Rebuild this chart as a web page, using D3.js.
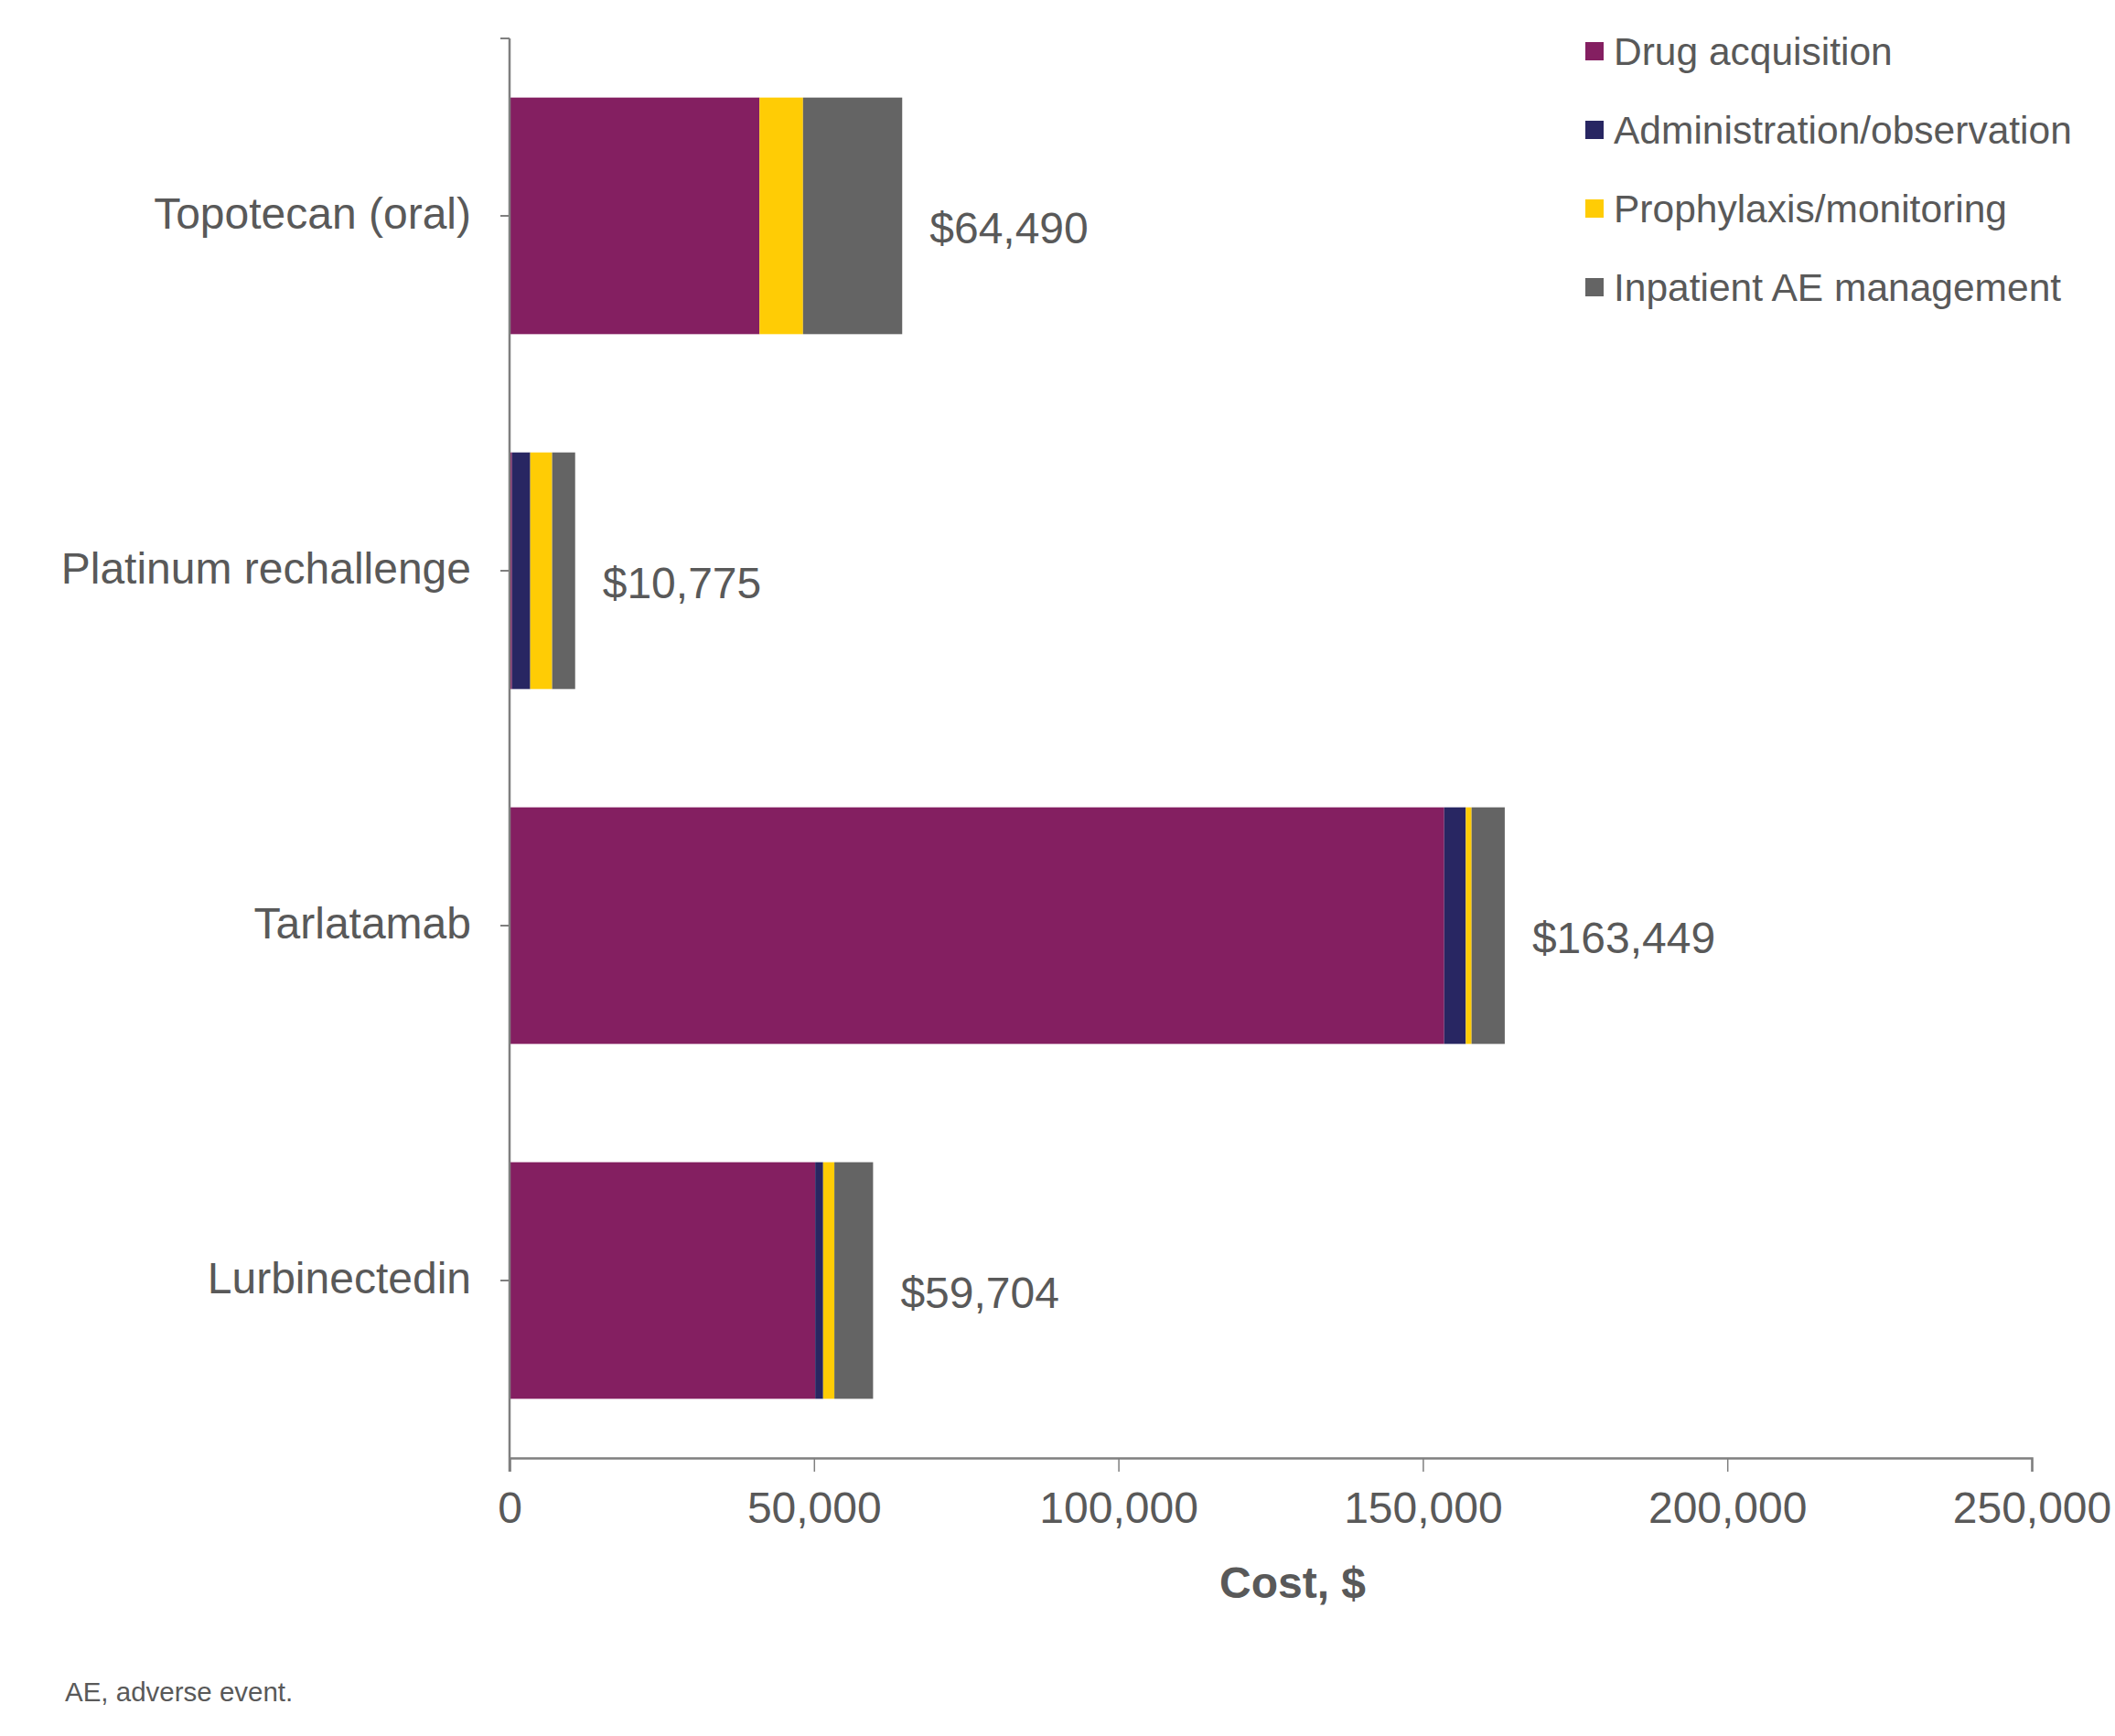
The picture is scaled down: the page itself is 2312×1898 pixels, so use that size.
<!DOCTYPE html>
<html>
<head>
<meta charset="utf-8">
<script src="https://cdn.jsdelivr.net/npm/d3@7"></script>
<style>
  html, body { margin: 0; padding: 0; background: #fff; }
  svg { display: block; font-family: "Liberation Sans", Arial, sans-serif; }
</style>
</head>
<body>
<svg id="chart"></svg>
<script>
// data
const categories = ["Topotecan (oral)", "Platinum rechallenge", "Tarlatamab", "Lurbinectedin"];
const seriesNames = ["Drug acquisition", "Administration/observation", "Prophylaxis/monitoring", "Inpatient AE management"];
const drugAcquisition = [41050, 400, 153500, 50200];
const administration = [0, 3000, 3550, 1300];
const prophylaxis = [7150, 3600, 950, 1850];
const inpatientAE = [16290, 3775, 5449, 6354];
const totals = [64490, 10775, 163449, 59704];
const xTicks = [0, 50000, 100000, 150000, 200000, 250000];

const colors = ["#841f61", "#282662", "#ffcc05", "#646464"];
const textColor = "#595959";
const axisColor = "#7f7f7f";

const width = 2312, height = 1898;
const svg = d3.select("#chart").attr("width", width).attr("height", height);

const x = d3.scaleLinear().domain([0, 250000]).range([557, 2221]);
const y = d3.scaleBand().domain(categories).range([42, 1594])
  .paddingInner(1 / 3).paddingOuter(1 / 6);

const rows = categories.map((c, i) => ({
  category: c,
  "Drug acquisition": drugAcquisition[i],
  "Administration/observation": administration[i],
  "Prophylaxis/monitoring": prophylaxis[i],
  "Inpatient AE management": inpatientAE[i],
}));

const stacked = d3.stack().keys(seriesNames)(rows);

// bars
svg.append("g")
  .selectAll("g")
  .data(stacked)
  .join("g")
  .attr("fill", (d, i) => colors[i])
  .selectAll("rect")
  .data((d) => d)
  .join("rect")
  .attr("x", (d) => x(d[0]))
  .attr("y", (d) => y(d.data.category))
  .attr("width", (d) => x(d[1]) - x(d[0]))
  .attr("height", y.bandwidth());

// total labels
svg.append("g")
  .selectAll("text")
  .data(categories)
  .join("text")
  .attr("x", (d, i) => x(totals[i]) + 30)
  .attr("y", (d) => y(d) + y.bandwidth() / 2 + 30)
  .attr("fill", textColor)
  .attr("font-size", 48)
  .text((d, i) => "$" + d3.format(",")(totals[i]));

// x axis
const xAxis = svg.append("g")
  .attr("transform", `translate(0, 1594)`)
  .call(d3.axisBottom(x).tickValues(xTicks).tickFormat(d3.format(",")).tickSize(15).tickPadding(22));
xAxis.select(".domain").attr("stroke", axisColor).attr("stroke-width", 2.5);
xAxis.selectAll(".tick line").attr("stroke", axisColor).attr("stroke-width", 1.5);
xAxis.selectAll(".tick text")
  .attr("fill", textColor)
  .attr("font-size", 48)
  .attr("font-family", "Liberation Sans, Arial, sans-serif");

// y axis
const yAxis = svg.append("g")
  .attr("transform", `translate(557, 0)`)
  .call(d3.axisLeft(y).tickSize(10).tickPadding(32).tickSizeOuter(0));
yAxis.select(".domain").attr("stroke", axisColor).attr("stroke-width", 2.5)
  .attr("d", "M0,42V1609");
yAxis.selectAll(".tick line").attr("stroke", axisColor).attr("stroke-width", 2);
yAxis.selectAll(".tick text")
  .attr("fill", textColor)
  .attr("font-size", 48)
  .attr("font-family", "Liberation Sans, Arial, sans-serif")
  .attr("dy", "0.3em");
yAxis.append("line")
  .attr("x1", -10).attr("x2", 0)
  .attr("y1", 42).attr("y2", 42)
  .attr("stroke", axisColor).attr("stroke-width", 2);

// axis title
svg.append("text")
  .attr("x", 1413)
  .attr("y", 1747)
  .attr("text-anchor", "middle")
  .attr("font-size", 48)
  .attr("font-weight", "bold")
  .attr("fill", textColor)
  .text("Cost, $");

// legend
const legend = svg.append("g")
  .selectAll("g")
  .data(seriesNames)
  .join("g")
  .attr("transform", (d, i) => `translate(1733, ${56 + i * 86})`);
legend.append("rect")
  .attr("x", 0).attr("y", -10)
  .attr("width", 20).attr("height", 20)
  .attr("fill", (d, i) => colors[i]);
legend.append("text")
  .attr("x", 31)
  .attr("y", 15)
  .attr("font-size", 42.5)
  .attr("fill", textColor)
  .text((d) => d);

// footnote
svg.append("text")
  .attr("x", 71)
  .attr("y", 1860)
  .attr("font-size", 29.5)
  .attr("fill", textColor)
  .text("AE, adverse event.");
</script>
</body>
</html>
